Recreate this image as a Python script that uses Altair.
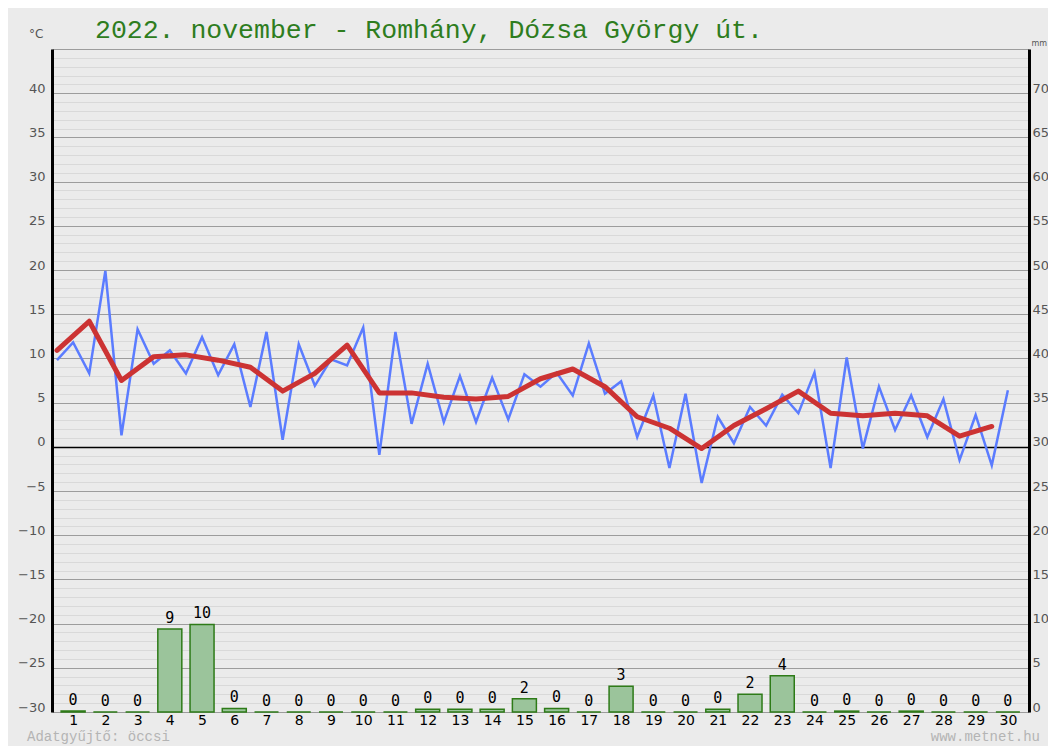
import altair as alt
import pandas as pd

# ---- data ----
days = list(range(1, 31))

# twice-daily temperature readings (°C), 60 values
temp_halfday = [9.8, 11.8, 8.3, 19.9, 1.3, 13.3, 9.4, 10.9, 8.3, 12.4,
                8.1, 11.6, 4.5, 13.0, 0.8, 11.6, 6.9, 9.9, 9.2, 13.5,
                -0.9, 13.0, 2.6, 9.4, 2.8, 8.0, 2.8, 7.8, 3.1, 8.2,
                6.8, 8.4, 5.8, 11.7, 6.0, 7.4, 1.1, 5.8, -2.4, 6.0,
                -4.1, 3.4, 0.4, 4.5, 2.4, 5.9, 3.8, 8.4, -2.4, 10.1,
                -0.2, 6.8, 1.9, 5.8, 1.1, 5.4, -1.5, 3.6, -2.1, 6.4]

# daily mean temperature (°C), 30 values
temp_daily = [10.9, 14.2, 7.5, 10.2, 10.4, 9.8, 9.0, 6.3, 8.3, 11.5,
              6.1, 6.1, 5.6, 5.4, 5.7, 7.7, 8.8, 6.8, 3.4, 2.1,
              -0.2, 2.4, 4.3, 6.3, 3.8, 3.5, 3.8, 3.5, 1.2, 2.3]

# daily precipitation (mm)
precip_mm = [0.1, 0, 0, 9.4, 9.9, 0.4, 0, 0, 0, 0,
             0, 0.3, 0.3, 0.3, 1.5, 0.4, 0, 2.9, 0, 0,
             0.3, 2.0, 4.1, 0, 0.1, 0, 0.1, 0, 0, 0]

temp_ticks = list(range(-30, 46))
mm_ticks = list(range(0, 71, 5))

title_text = "2022. november - Romhány, Dózsa György út."
collector_text = "Adatgyűjtő: öccsi"
site_text = "www.metnet.hu"

# ---- tables ----
blue_df = pd.DataFrame({"t": [0.5 + 0.5 * k for k in range(len(temp_halfday))],
                        "temp": temp_halfday})
red_df = pd.DataFrame({"t": [0.5 + j for j in range(len(temp_daily))],
                       "temp": temp_daily})
bar_df = pd.DataFrame({"day": days, "mm": precip_mm})
text_df = pd.DataFrame({"title": [title_text], "left": [collector_text],
                        "right": [site_text]})

x_scale = alt.Scale(domain=[0.5, 30.5], nice=False, zero=False)
t_scale = alt.Scale(domain=[-30, 45], nice=False, zero=False)
mm_scale = alt.Scale(domain=[0, 75], nice=False, zero=True)

grid_color = {
    "condition": [
        {"test": "datum.value === 0", "value": "#000000"},
        {"test": "datum.value % 5 === 0", "value": "#9c9c9c"},
    ],
    "value": "#d9d9d9",
}
grid_width = {"condition": {"test": "datum.value === 0", "value": 1.6}, "value": 1}

left_axis = alt.Axis(
    orient="left", values=temp_ticks,
    labelExpr="datum.value % 5 === 0 && datum.value < 45 ? datum.label : ''",
    labelOverlap=False, ticks=False, grid=True,
    gridColor=grid_color, gridWidth=grid_width,
    domain=True, domainColor="#000000", domainWidth=3,
    labelColor="#555555", labelFont="DejaVu Sans", labelFontSize=13, labelPadding=7,
    labelBaseline="alphabetic", labelOffset=-1,
    title="°C", titleAngle=0, titleX=-9, titleY=-9, titleAlign="right",
    titleBaseline="bottom", titleFont="DejaVu Sans", titleFontSize=12,
    titleFontWeight="normal", titleColor="#555555",
)

right_axis = alt.Axis(
    orient="right", values=mm_ticks, labelOverlap=False, ticks=False, grid=False,
    domain=True, domainColor="#000000", domainWidth=3,
    labelColor="#555555", labelFont="DejaVu Sans", labelFontSize=13, labelPadding=3,
    labelBaseline="alphabetic", labelOffset=-1,
    title="mm", titleAngle=0, titleX=2, titleY=-2, titleAlign="left",
    titleBaseline="bottom", titleFont="DejaVu Sans", titleFontSize=8,
    titleFontWeight="normal", titleColor="#555555",
)

x_axis = alt.Axis(
    values=days, ticks=False, grid=False, domain=False, labelAngle=0,
    labelFlush=False, labelOverlap=False, labelColor="#000000",
    labelFont="DejaVu Sans", labelFontSize=14, labelPadding=1, title=None,
)

blue = alt.Chart(blue_df).mark_line(color="#5b7cff", strokeWidth=2.5).encode(
    x=alt.X("t:Q", scale=x_scale, axis=x_axis, title=None),
    y=alt.Y("temp:Q", scale=t_scale, axis=left_axis),
)

red = alt.Chart(red_df).mark_line(
    color="#cc3333", strokeWidth=5, strokeJoin="round", strokeCap="round"
).encode(
    x=alt.X("t:Q", scale=x_scale, axis=x_axis, title=None),
    y=alt.Y("temp:Q", scale=t_scale, axis=None),
)

bars = alt.Chart(bar_df).mark_bar(
    size=24, fill="#9bc49b", stroke="#2e7b18", strokeWidth=1.5
).encode(
    x=alt.X("day:Q", scale=x_scale, axis=x_axis, title=None),
    y=alt.Y("mm:Q", scale=mm_scale, axis=right_axis),
)

bar_text = alt.Chart(bar_df).mark_text(
    dy=-6, baseline="alphabetic", font="DejaVu Sans Mono", fontSize=15, color="#000000"
).encode(
    x=alt.X("day:Q", scale=x_scale, axis=x_axis, title=None),
    y=alt.Y("mm:Q", scale=mm_scale, axis=None),
    text=alt.Text("mm:Q", format=".0f"),
)

title_mark = alt.Chart(text_df).mark_text(
    align="left", baseline="alphabetic", font="Liberation Mono", fontSize=26.5,
    fontWeight="normal", color="#2e7d1e"
).encode(x=alt.value(43), y=alt.value(-11), text="title:N")

foot_left = alt.Chart(text_df).mark_text(
    align="left", baseline="alphabetic", font="Liberation Mono", fontSize=14,
    color="#b4b4b4"
).encode(x=alt.value(-25), y=alt.value(692), text="left:N")

foot_right = alt.Chart(text_df).mark_text(
    align="right", baseline="alphabetic", font="Liberation Mono", fontSize=14,
    color="#b4b4b4"
).encode(x=alt.value(988), y=alt.value(692), text="right:N")

chart = alt.layer(
    blue, red, bars, bar_text, title_mark, foot_left, foot_right
).resolve_scale(
    y="independent"
).properties(
    width=977, height=663,
    padding={"left": 44, "top": 41, "right": 19, "bottom": 34},
    autosize=alt.AutoSizeParams(type="none"),
    background="#ebebeb",
).configure_view(stroke=None, fill="#ebebeb")

chart.save("out.html", embed_options={"renderer": "svg", "actions": False})
